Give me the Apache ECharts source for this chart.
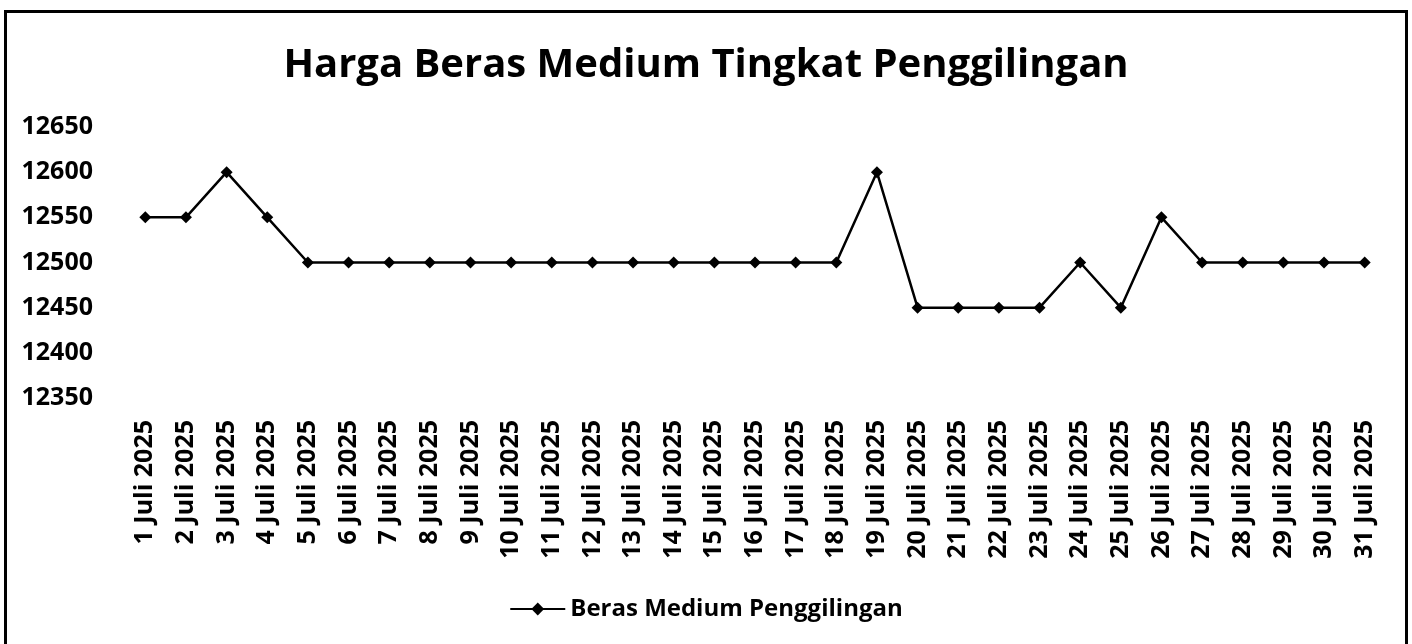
<!DOCTYPE html>
<html>
<head>
<meta charset="utf-8">
<script src="https://cdn.jsdelivr.net/npm/echarts@6/dist/echarts.min.js"></script>
<style>
  html, body { margin: 0; padding: 0; background: #fff; }
  #frame { position: absolute; left: 4px; top: 10px; width: 1404px; height: 640px;
           border: 3px solid #000; border-bottom: none; box-sizing: border-box; }
  #chart { position: absolute; left: 0; top: 0; width: 1412px; height: 644px; }
</style>
</head>
<body>
<div id="frame"></div>
<div id="chart"></div>
<script>
const dates = [];
for (let d = 1; d <= 31; d++) dates.push(d + ' Juli 2025');
const prices = [12550, 12550, 12600, 12550, 12500, 12500, 12500, 12500, 12500, 12500,
  12500, 12500, 12500, 12500, 12500, 12500, 12500, 12500, 12600, 12450,
  12450, 12450, 12450, 12500, 12450, 12550, 12500, 12500, 12500, 12500, 12500];
const seriesName = 'Beras Medium Penggilingan';
const font = '"Open Sans", sans-serif';

const myChart = echarts.init(document.getElementById('chart'));
myChart.setOption({
  animation: false,
  title: {
    text: 'Harga Beras Medium Tingkat Penggilingan',
    left: 'center', top: 41,
    textStyle: { fontFamily: font, fontSize: 40, fontWeight: 'bold', color: '#000' }
  },
  legend: {
    bottom: 18, left: 'center',
    itemWidth: 55, itemHeight: 16, itemGap: 4,
    textStyle: { fontFamily: font, fontSize: 24, fontWeight: 'bold', color: '#000' },
    data: [seriesName]
  },
  grid: { left: 125, right: 27, top: 127, bottom: 246, containLabel: false },
  xAxis: {
    type: 'category',
    data: dates,
    boundaryGap: true,
    axisLine: { show: false },
    axisTick: { show: false },
    axisLabel: { rotate: 90, interval: 0, margin: 22, fontFamily: font, fontSize: 25,
                 fontWeight: 'bold', color: '#000' }
  },
  yAxis: {
    type: 'value',
    min: 12350, max: 12650, interval: 50,
    axisLine: { show: false },
    axisTick: { show: false },
    splitLine: { show: false },
    axisLabel: { margin: 32, fontFamily: font, fontSize: 25, fontWeight: 'bold', color: '#000',
                 formatter: v => String(v) }
  },
  series: [{
    name: seriesName,
    type: 'line',
    data: prices,
    symbol: 'diamond',
    symbolSize: 12,
    lineStyle: { color: '#000', width: 2.5 },
    itemStyle: { color: '#000' }
  }]
});
</script>
</body>
</html>
